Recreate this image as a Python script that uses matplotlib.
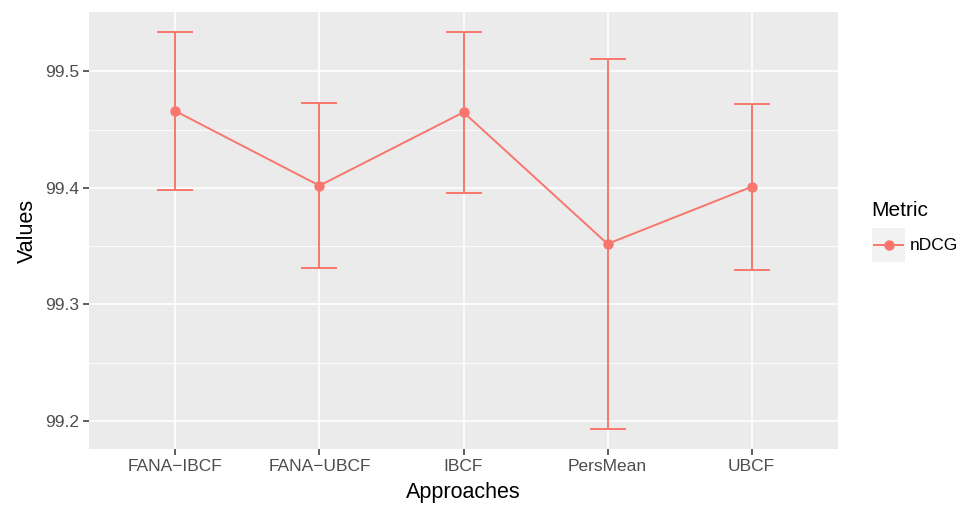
import matplotlib.pyplot as plt
import matplotlib.patches as mpatches
from matplotlib.lines import Line2D

approaches = ["FANA\u2212IBCF", "FANA\u2212UBCF", "IBCF", "PersMean", "UBCF"]
ndcg_mean = [99.466, 99.402, 99.465, 99.352, 99.401]
ndcg_err = [0.068, 0.071, 0.069, 0.159, 0.071]
metric_name = "nDCG"

red = "#F8766D"
plt.rcParams['font.family'] = ['Liberation Sans', 'DejaVu Sans']

fig = plt.figure(figsize=(9.67, 5.05), dpi=100)
ax = fig.add_axes([89 / 967, 56 / 505, 749 / 967, 437 / 505])
ax.set_facecolor("#EBEBEB")

x = list(range(len(approaches)))
ax.errorbar(x, ndcg_mean, yerr=ndcg_err, color=red, lw=1.4, capsize=13,
            capthick=1.4, fmt='none', zorder=3)
ax.plot(x, ndcg_mean, color=red, lw=1.4, marker='o', markersize=6.5, zorder=4)

# y range with ggplot-like 5% padding
lo = min(m - e for m, e in zip(ndcg_mean, ndcg_err))
hi = max(m + e for m, e in zip(ndcg_mean, ndcg_err))
pad = (hi - lo) * 0.05
ax.set_ylim(lo - pad, hi + pad)
ax.set_xlim(-0.6, len(approaches) - 0.4)

ax.set_yticks([99.2, 99.3, 99.4, 99.5])
ax.set_yticklabels(["99.2", "99.3", "99.4", "99.5"])
ax.set_yticks([99.25, 99.35, 99.45], minor=True)
ax.set_xticks(x)
ax.set_xticklabels(approaches)

ax.grid(which='major', color='white', lw=1.2)
ax.grid(which='minor', axis='y', color='white', lw=0.6)
ax.set_axisbelow(True)
for s in ax.spines.values():
    s.set_visible(False)
ax.tick_params(which='major', length=4, width=1.1, color='#333333',
               labelcolor='#4D4D4D', labelsize=12.5, pad=3)
ax.tick_params(which='minor', length=0)

ax.set_xlabel("Approaches", fontsize=15.5, labelpad=6)
ax.set_ylabel("Values", fontsize=15.5, labelpad=5)

# legend drawn at the right of the panel
fig.text(871 / 967, 1 - 211 / 505, "Metric", fontsize=15, va='center', ha='left')
fig.patches.append(mpatches.Rectangle((872 / 967, 1 - 262 / 505), 33 / 967, 34 / 505,
                                      transform=fig.transFigure, facecolor='#F2F2F2',
                                      edgecolor='none'))
fig.lines.append(Line2D([874 / 967, 903 / 967], [1 - 245 / 505] * 2, transform=fig.transFigure,
                        color=red, lw=1.4))
fig.lines.append(Line2D([888.5 / 967], [1 - 245 / 505], transform=fig.transFigure,
                        color=red, marker='o', markersize=6.5, lw=0))
fig.text(910 / 967, 1 - 245 / 505, metric_name, fontsize=12.5, va='center', ha='left')

fig.savefig("out.png", dpi=100)
